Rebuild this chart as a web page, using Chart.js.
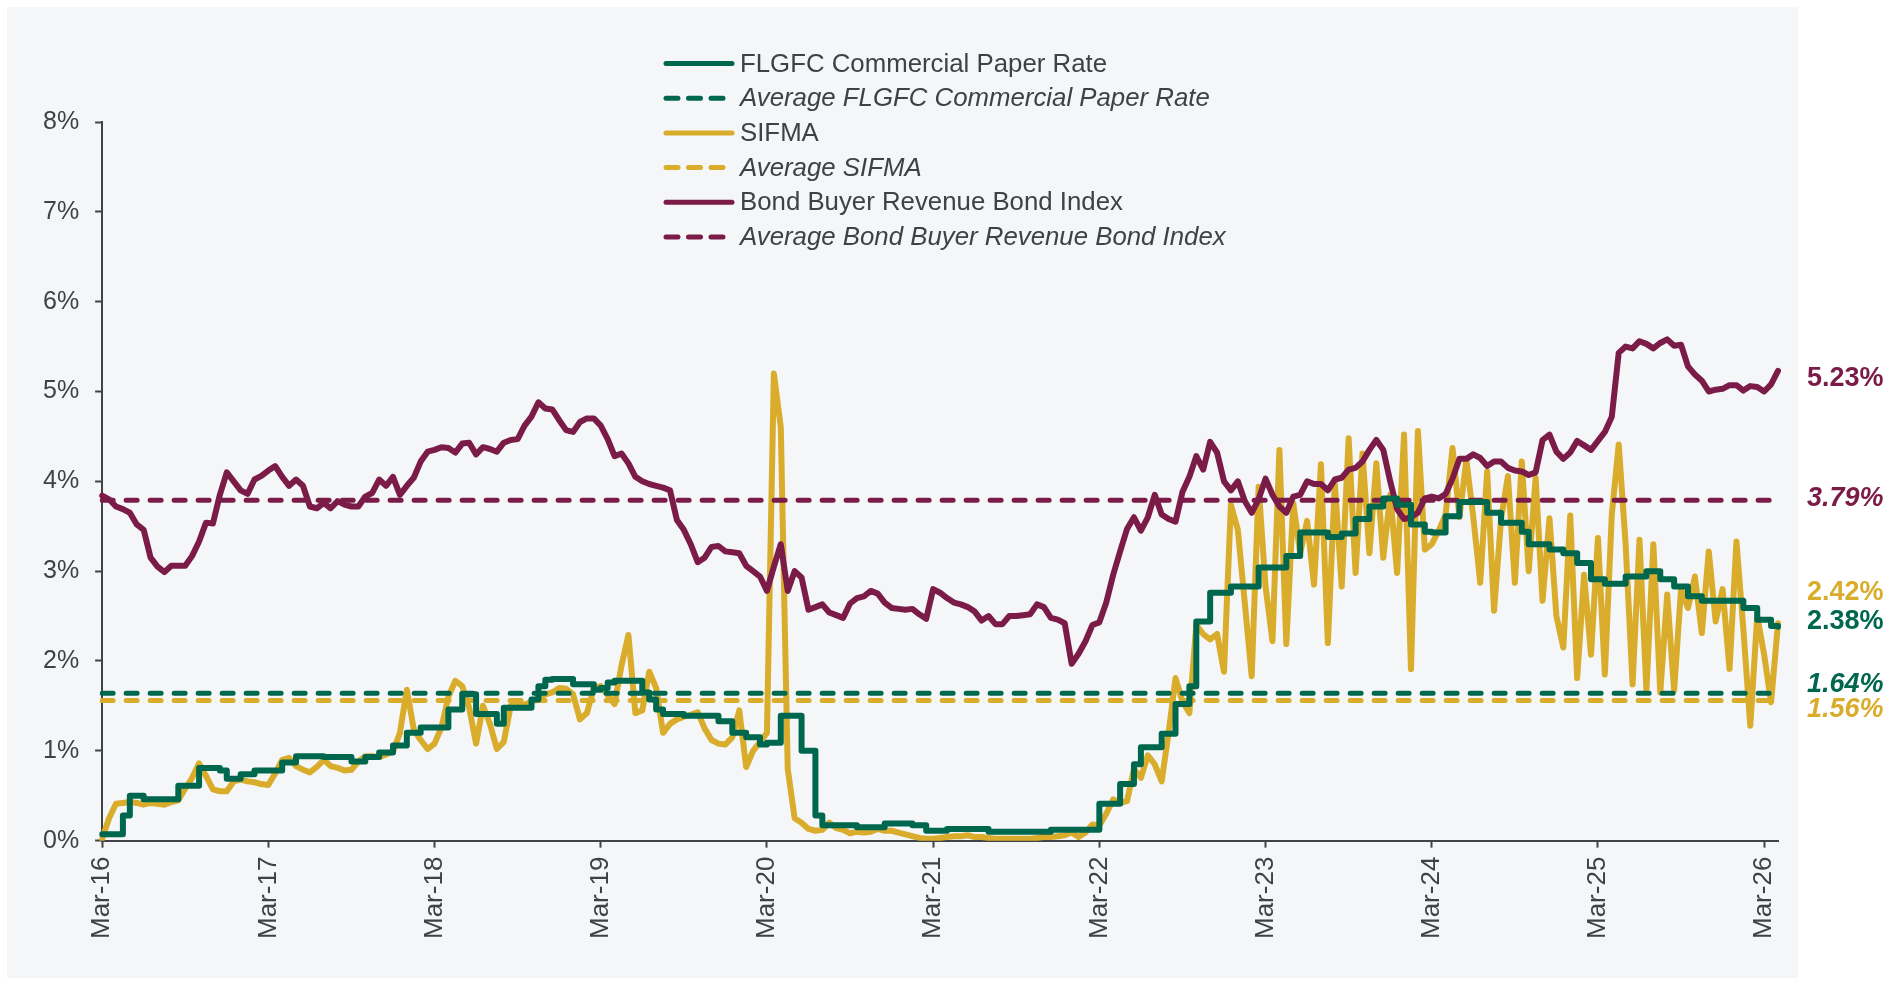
<!DOCTYPE html>
<html>
<head>
<meta charset="utf-8">
<script src="https://cdn.jsdelivr.net/npm/chart.js@4.4.1/dist/chart.umd.min.js"></script>
<style>
  html, body { margin: 0; padding: 0; background: #ffffff; }
  #wrap { width: 1902px; height: 981px; }
</style>
</head>
<body>
<div id="wrap"><canvas id="rates" width="1902" height="981"></canvas></div>
<script>
// one tick label per year, data is sampled twice a month
var yearTicks = ['Mar-16', 'Mar-17', 'Mar-18', 'Mar-19', 'Mar-20', 'Mar-21',
                 'Mar-22', 'Mar-23', 'Mar-24', 'Mar-25', 'Mar-26'];
var stepsPerYear = 24;

var flgfc = [
  0.07, 0.07, 0.07, 0.28, 0.50, 0.50, 0.46, 0.46, 0.46, 0.46, 0.46, 0.61, 0.61, 0.61, 0.81, 0.81, 0.81, 0.78, 0.69, 0.69, 0.74, 0.74, 0.78, 0.78,
  0.78, 0.78, 0.87, 0.87, 0.94, 0.94, 0.94, 0.94, 0.93, 0.93, 0.93, 0.93, 0.88, 0.88, 0.93, 0.93, 0.98, 0.98, 1.06, 1.06, 1.20, 1.20, 1.26, 1.26,
  1.26, 1.26, 1.46, 1.46, 1.63, 1.63, 1.41, 1.41, 1.41, 1.30, 1.48, 1.48, 1.48, 1.48, 1.57, 1.72, 1.79, 1.80, 1.80, 1.80, 1.74, 1.74, 1.74, 1.68,
  1.70, 1.76, 1.78, 1.78, 1.78, 1.78, 1.65, 1.57, 1.46, 1.41, 1.41, 1.41, 1.39, 1.39, 1.39, 1.39, 1.39, 1.33, 1.33, 1.20, 1.20, 1.15, 1.15, 1.07,
  1.09, 1.09, 1.39, 1.39, 1.39, 1.00, 1.00, 0.28, 0.17, 0.17, 0.17, 0.17, 0.17, 0.15, 0.15, 0.15, 0.15, 0.19, 0.19, 0.19, 0.19, 0.17, 0.17, 0.11,
  0.11, 0.11, 0.13, 0.13, 0.13, 0.13, 0.13, 0.13, 0.10, 0.10, 0.10, 0.10, 0.10, 0.10, 0.10, 0.10, 0.10, 0.12, 0.12, 0.12, 0.12, 0.12, 0.12, 0.12,
  0.41, 0.41, 0.41, 0.63, 0.63, 0.85, 1.04, 1.04, 1.04, 1.19, 1.19, 1.52, 1.52, 1.72, 2.44, 2.44, 2.76, 2.76, 2.76, 2.83, 2.83, 2.83, 2.83, 3.04,
  3.04, 3.04, 3.04, 3.17, 3.17, 3.43, 3.43, 3.43, 3.43, 3.38, 3.38, 3.42, 3.42, 3.58, 3.58, 3.72, 3.72, 3.81, 3.81, 3.74, 3.74, 3.52, 3.52, 3.44,
  3.43, 3.43, 3.61, 3.61, 3.77, 3.77, 3.77, 3.77, 3.65, 3.65, 3.54, 3.54, 3.54, 3.44, 3.30, 3.30, 3.30, 3.24, 3.24, 3.20, 3.20, 3.09, 3.09, 2.91,
  2.91, 2.86, 2.86, 2.86, 2.94, 2.94, 2.94, 3.00, 3.00, 2.91, 2.91, 2.83, 2.83, 2.72, 2.72, 2.67, 2.67, 2.67, 2.67, 2.67, 2.67, 2.59, 2.59, 2.46,
  2.46, 2.39, 2.38
];

var sifma = [
  0.02, 0.25, 0.41, 0.42, 0.43, 0.42, 0.40, 0.42, 0.41, 0.40, 0.43, 0.45, 0.58, 0.70, 0.86, 0.72, 0.57, 0.55, 0.55, 0.66, 0.68, 0.66, 0.65, 0.63,
  0.62, 0.75, 0.90, 0.92, 0.83, 0.79, 0.76, 0.82, 0.90, 0.83, 0.81, 0.78, 0.79, 0.88, 0.94, 0.94, 0.93, 0.96, 0.99, 1.20, 1.68, 1.24, 1.12, 1.02,
  1.08, 1.26, 1.60, 1.78, 1.72, 1.48, 1.08, 1.50, 1.30, 1.02, 1.10, 1.50, 1.53, 1.51, 1.55, 1.57, 1.63, 1.65, 1.70, 1.69, 1.63, 1.35, 1.42, 1.70,
  1.72, 1.62, 1.52, 1.95, 2.29, 1.42, 1.45, 1.88, 1.70, 1.20, 1.30, 1.35, 1.38, 1.40, 1.43, 1.25, 1.12, 1.08, 1.07, 1.15, 1.45, 0.82, 1.00, 1.10,
  1.20, 5.20, 4.60, 0.80, 0.25, 0.20, 0.13, 0.11, 0.12, 0.20, 0.14, 0.12, 0.08, 0.10, 0.09, 0.10, 0.13, 0.11, 0.11, 0.09, 0.07, 0.05, 0.03, 0.02,
  0.02, 0.03, 0.04, 0.05, 0.05, 0.06, 0.04, 0.04, 0.03, 0.02, 0.02, 0.02, 0.02, 0.02, 0.02, 0.03, 0.04, 0.04, 0.05, 0.06, 0.09, 0.04, 0.09, 0.18,
  0.17, 0.30, 0.46, 0.42, 0.44, 0.80, 0.70, 0.95, 0.85, 0.66, 1.20, 1.81, 1.55, 1.42, 2.40, 2.30, 2.24, 2.30, 1.88, 3.74, 3.46, 2.65, 1.83, 3.94,
  2.83, 2.22, 4.35, 2.19, 3.76, 3.20, 3.56, 2.85, 4.19, 2.20, 3.98, 2.83, 4.48, 2.98, 4.31, 3.20, 4.20, 3.15, 3.85, 2.98, 4.52, 1.91, 4.56, 3.24,
  3.30, 3.45, 3.63, 4.37, 3.60, 4.24, 3.60, 2.87, 4.11, 2.56, 3.57, 4.06, 2.87, 4.22, 3.00, 4.04, 2.67, 3.59, 2.50, 2.15, 3.62, 1.81, 2.96, 2.07,
  3.37, 1.85, 3.63, 4.41, 3.30, 1.74, 3.35, 1.67, 3.30, 1.65, 2.74, 1.67, 2.80, 2.59, 2.94, 2.31, 3.22, 2.44, 2.80, 1.91, 3.33, 2.35, 1.28, 2.50,
  2.07, 1.54, 2.42
];

var bbri = [
  3.84, 3.80, 3.72, 3.69, 3.65, 3.52, 3.46, 3.15, 3.05, 2.99, 3.06, 3.06, 3.06, 3.17, 3.33, 3.54, 3.53, 3.85, 4.10, 4.00, 3.90, 3.86, 4.02, 4.06,
  4.12, 4.17, 4.05, 3.95, 4.02, 3.95, 3.72, 3.70, 3.76, 3.70, 3.78, 3.74, 3.72, 3.72, 3.83, 3.87, 4.02, 3.95, 4.05, 3.85, 3.95, 4.04, 4.22, 4.33,
  4.35, 4.38, 4.37, 4.32, 4.42, 4.43, 4.30, 4.38, 4.36, 4.33, 4.43, 4.46, 4.47, 4.62, 4.72, 4.88, 4.81, 4.80, 4.68, 4.57, 4.55, 4.66, 4.70, 4.70,
  4.62, 4.47, 4.28, 4.31, 4.20, 4.05, 4.00, 3.97, 3.95, 3.93, 3.90, 3.57, 3.46, 3.30, 3.10, 3.15, 3.27, 3.28, 3.22, 3.21, 3.20, 3.06, 3.00, 2.94,
  2.78, 3.05, 3.30, 2.78, 3.00, 2.93, 2.57, 2.60, 2.63, 2.54, 2.51, 2.48, 2.64, 2.70, 2.72, 2.78, 2.75, 2.65, 2.59, 2.58, 2.57, 2.58, 2.52, 2.47,
  2.80, 2.76, 2.70, 2.65, 2.63, 2.60, 2.55, 2.45, 2.50, 2.41, 2.41, 2.50, 2.50, 2.51, 2.52, 2.63, 2.60, 2.48, 2.46, 2.42, 1.97, 2.08, 2.22, 2.40,
  2.43, 2.65, 2.96, 3.22, 3.47, 3.60, 3.45, 3.60, 3.85, 3.63, 3.58, 3.55, 3.88, 4.05, 4.28, 4.13, 4.44, 4.32, 4.00, 3.90, 4.00, 3.78, 3.65, 3.80,
  4.03, 3.85, 3.72, 3.65, 3.83, 3.85, 4.00, 3.97, 3.97, 3.90, 4.02, 4.04, 4.13, 4.15, 4.22, 4.35, 4.46, 4.35, 4.00, 3.69, 3.58, 3.60, 3.65, 3.81,
  3.83, 3.81, 3.86, 4.03, 4.25, 4.25, 4.30, 4.26, 4.17, 4.22, 4.22, 4.15, 4.12, 4.11, 4.07, 4.10, 4.46, 4.52, 4.33, 4.25, 4.32, 4.45, 4.40, 4.35,
  4.45, 4.55, 4.72, 5.43, 5.50, 5.48, 5.56, 5.53, 5.48, 5.54, 5.58, 5.51, 5.52, 5.28, 5.19, 5.12, 5.00, 5.02, 5.03, 5.07, 5.07, 5.01, 5.06, 5.05,
  5.00, 5.08, 5.23
];

var avgFlgfc = 1.64;
var avgSifma = 1.56;
var avgBbri = 3.79;

var seriesNames = [
  'FLGFC Commercial Paper Rate',
  'Average FLGFC Commercial Paper Rate',
  'SIFMA',
  'Average SIFMA',
  'Bond Buyer Revenue Bond Index',
  'Average Bond Buyer Revenue Bond Index'
];

var green = '#00674f';
var gold = '#d9ad2b';
var maroon = '#7b1c48';
var axisColor = '#3f4449';
var textColor = '#3d4247';
var fontFamily = '"Liberation Sans", Arial, Helvetica, sans-serif';

// half-month slots, labelled once a year
var periods = flgfc.map(function (v, i) {
  return i % stepsPerYear === 0 ? yearTicks[i / stepsPerYear] : '';
});

function flat(v) {
  return periods.map(function () { return v; });
}

var solidLine = { pointRadius: 0, borderWidth: 6, borderJoinStyle: 'round', borderCapStyle: 'round', fill: false };
var dashLine = { pointRadius: 0, borderWidth: 5, borderDash: [11, 13], borderCapStyle: 'round', fill: false };

var bgPlugin = {
  id: 'panel',
  beforeDraw: function (chart) {
    var ctx = chart.ctx;
    ctx.save();
    ctx.fillStyle = '#ffffff';
    ctx.fillRect(0, 0, chart.width, chart.height);
    ctx.fillStyle = '#f4f6f8';
    ctx.fillRect(7, 7, 1791, 971);
    ctx.restore();
  }
};

// legend as one column, like the original
var legendPlugin = {
  id: 'columnLegend',
  afterDraw: function (chart) {
    var ctx = chart.ctx;
    ctx.save();
    chart.data.datasets.forEach(function (ds, i) {
      var y = 63.5 + i * 34.7;
      ctx.strokeStyle = ds.borderColor;
      ctx.lineWidth = 5;
      ctx.lineCap = 'round';
      ctx.setLineDash(ds.borderDash ? [12, 10.5] : []);
      ctx.beginPath();
      ctx.moveTo(666, y);
      ctx.lineTo(732, y);
      ctx.stroke();
      ctx.setLineDash([]);
      ctx.fillStyle = textColor;
      ctx.font = (ds.borderDash ? 'italic ' : '') + '25.8px ' + fontFamily;
      ctx.textBaseline = 'middle';
      ctx.textAlign = 'left';
      ctx.fillText(ds.label, 740, y + 1);
    });
    ctx.restore();
  }
};

// values written to the right of the plot
var endLabels = [
  { value: bbri[bbri.length - 1], color: maroon, italic: false, shift: 8 },
  { value: avgBbri, color: maroon, italic: true, shift: -2 },
  { value: sifma[sifma.length - 1], color: gold, italic: false, shift: -31 },
  { value: flgfc[flgfc.length - 1], color: green, italic: false, shift: -5 },
  { value: avgFlgfc, color: green, italic: true, shift: -9 },
  { value: avgSifma, color: gold, italic: true, shift: 9 }
];

var endLabelPlugin = {
  id: 'endLabels',
  afterDraw: function (chart) {
    var ctx = chart.ctx;
    var yScale = chart.scales.y;
    ctx.save();
    ctx.textBaseline = 'middle';
    ctx.textAlign = 'left';
    endLabels.forEach(function (l) {
      ctx.font = (l.italic ? 'italic ' : '') + 'bold 27px ' + fontFamily;
      ctx.fillStyle = l.color;
      ctx.fillText(l.value.toFixed(2) + '%', 1807, yScale.getPixelForValue(l.value) + l.shift);
    });
    ctx.restore();
  }
};

function tickColor(c) {
  return c.tick && c.tick.label ? axisColor : 'rgba(0,0,0,0)';
}

var ctx = document.getElementById('rates').getContext('2d');
var chart = new Chart(ctx, {
  type: 'line',
  data: {
    labels: periods,
    datasets: [
      Object.assign({ label: seriesNames[0], data: flgfc, borderColor: green, stepped: true, order: 1 }, solidLine),
      Object.assign({ label: seriesNames[1], data: flat(avgFlgfc), borderColor: green, order: 3 }, dashLine),
      Object.assign({ label: seriesNames[2], data: sifma, borderColor: gold, order: 5 }, solidLine),
      Object.assign({ label: seriesNames[3], data: flat(avgSifma), borderColor: gold, order: 4 }, dashLine),
      Object.assign({ label: seriesNames[4], data: bbri, borderColor: maroon, order: 2 }, solidLine),
      Object.assign({ label: seriesNames[5], data: flat(avgBbri), borderColor: maroon, order: 3 }, dashLine)
    ]
  },
  options: {
    responsive: false,
    animation: false,
    layout: { padding: { left: 27, right: 124, top: 122, bottom: 33 } },
    plugins: {
      legend: { display: false },
      tooltip: { enabled: false }
    },
    scales: {
      x: {
        type: 'category',
        offset: false,
        grid: { drawOnChartArea: false, drawTicks: true, tickLength: 7, tickWidth: 2, color: tickColor, tickColor: tickColor },
        border: { display: true, color: axisColor, width: 2 },
        ticks: {
          autoSkip: false,
          maxRotation: 90,
          minRotation: 90,
          padding: 9,
          color: textColor,
          font: { family: fontFamily, size: 26 },
          callback: function (value) { return this.getLabelForValue(value); }
        }
      },
      y: {
        min: 0,
        max: 8,
        grid: { drawOnChartArea: false, drawTicks: true, tickLength: 7, tickWidth: 2, color: axisColor },
        border: { display: true, color: axisColor, width: 2 },
        ticks: {
          stepSize: 1,
          padding: 16,
          color: textColor,
          font: { family: fontFamily, size: 25 },
          callback: function (v) { return v + '%'; }
        }
      }
    }
  },
  plugins: [bgPlugin, legendPlugin, endLabelPlugin]
});
</script>
</body>
</html>
